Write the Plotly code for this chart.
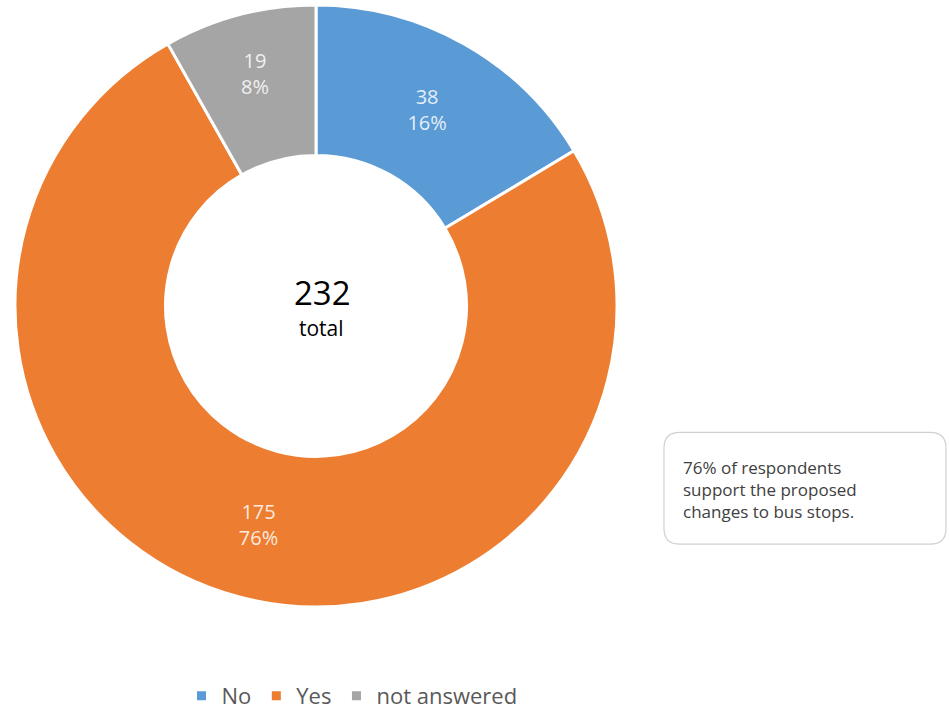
import plotly.graph_objects as go

categories = ["No", "Yes", "not answered"]
counts = [38, 175, 19]
pct_labels = ["16%", "76%", "8%"]
total_value = 232
total_label = "total"
note_text = "76% of respondents<br>support the proposed<br>changes to bus stops."

colors = ["#5B9BD5", "#ED7D31", "#A5A5A5"]

W, H = 949, 717
DY = 4
FONT = "Open Sans"

def px(x):
    return min(max(x / W, 0), 1)

def py(y):
    return min(max(1 - (y + DY) / H, 0), 1)

cx, cy, R = 316, 308, 307

fig = go.Figure()
fig.add_trace(go.Pie(
    labels=categories,
    values=counts,
    text=pct_labels,
    texttemplate="%{value}<br>%{text}",
    textinfo="text",
    textposition="inside",
    insidetextorientation="horizontal",
    textfont=dict(family=FONT, size=20, color="rgba(255,255,255,0.85)"),
    hole=0.5,
    sort=False,
    direction="clockwise",
    rotation=0,
    marker=dict(colors=colors, line=dict(color="white", width=3)),
    domain=dict(x=[px(cx - R), px(cx + R)], y=[py(cy + R), py(cy - R)]),
    showlegend=True,
))

# center label
fig.add_annotation(x=px(322), y=py(294), xref="paper", yref="paper",
                   text=str(total_value), showarrow=False,
                   font=dict(family=FONT, size=33, color="#000000"))
fig.add_annotation(x=px(321), y=py(331), xref="paper", yref="paper",
                   text=total_label, showarrow=False,
                   font=dict(family=FONT, size=21, color="#000000"))

# rounded box
x0, x1, y0, y1, r = 664, 946, 437, 551, 16
path = (f"M {px(x0+r)},{py(y0)} L {px(x1-r)},{py(y0)} Q {px(x1)},{py(y0)} {px(x1)},{py(y0+r)} "
        f"L {px(x1)},{py(y1-r)} Q {px(x1)},{py(y1)} {px(x1-r)},{py(y1)} "
        f"L {px(x0+r)},{py(y1)} Q {px(x0)},{py(y1)} {px(x0)},{py(y1-r)} "
        f"L {px(x0)},{py(y0+r)} Q {px(x0)},{py(y0)} {px(x0+r)},{py(y0)} Z")
fig.add_shape(type="path", path=path, xref="paper", yref="paper",
              line=dict(color="#D0D0D0", width=1.2), fillcolor="white")
fig.add_annotation(x=px(681), y=py(495), xref="paper", yref="paper",
                   xanchor="left", yanchor="middle", align="left",
                   text=note_text, showarrow=False,
                   font=dict(family=FONT, size=17, color="#404040"))

fig.update_layout(
    width=W, height=H,
    margin=dict(l=0, r=0, t=0, b=0),
    paper_bgcolor="white", plot_bgcolor="white",
    legend=dict(orientation="h", x=px(352), xanchor="center", y=py(706), yanchor="middle",
                font=dict(family=FONT, size=22, color="#595959"),
                itemwidth=30, traceorder="normal"),
)

fig.write_html("out.html", config={"displayModeBar": False},
               post_script="document.body.style.margin='0';document.body.style.overflow='hidden';")
